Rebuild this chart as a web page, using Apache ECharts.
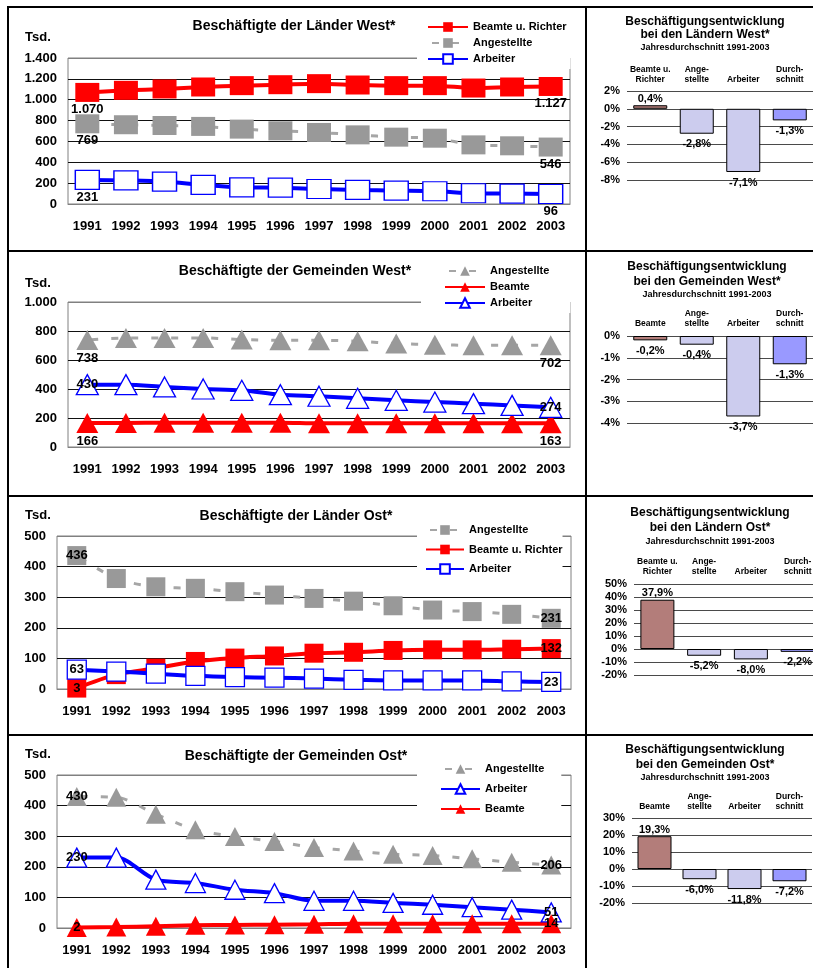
<!DOCTYPE html>
<html>
<head>
<meta charset="utf-8">
<script src="https://cdn.jsdelivr.net/npm/echarts@6/dist/echarts.min.js"></script>
<style>
  html, body { margin: 0; padding: 0; background: #fff; }
  #chart { width: 813px; height: 968px; }
</style>
</head>
<body>
<div id="chart"></div>
<script>
// ---------- data (Tsd. Beschäftigte, Jahreswerte) ----------
const years = ['1991', '1992', '1993', '1994', '1995', '1996', '1997', '1998', '1999', '2000', '2001', '2002', '2003'];

// Länder West
const laenderWestBeamte      = [1070, 1090, 1103, 1122, 1135, 1144, 1154, 1141, 1135, 1135, 1112, 1122, 1127];
const laenderWestAngestellte = [769, 760, 753, 744, 718, 702, 686, 663, 641, 631, 567, 558, 546];
const laenderWestArbeiter    = [231, 226, 215, 183, 160, 157, 144, 135, 128, 122, 103, 100, 96];

// Gemeinden West
const gemeindenWestAngestellte = [738, 752, 752, 752, 741, 736, 736, 729, 713, 706, 701, 701, 702];
const gemeindenWestBeamte      = [166, 166, 167, 167, 167, 167, 163, 163, 163, 163, 163, 163, 163];
const gemeindenWestArbeiter    = [430, 430, 414, 400, 391, 361, 350, 336, 322, 310, 299, 287, 274];

// Länder Ost
const laenderOstAngestellte = [436, 361, 334, 329, 318, 307, 296, 287, 272, 258, 253, 244, 231];
const laenderOstBeamte      = [3, 47, 68, 90, 101, 108, 117, 120, 126, 128, 128, 130, 132];
const laenderOstArbeiter    = [63, 57, 50, 43, 39, 37, 34, 30, 28, 28, 28, 25, 23];

// Gemeinden Ost
const gemeindenOstAngestellte = [430, 427, 372, 321, 299, 283, 263, 252, 241, 237, 226, 215, 206];
const gemeindenOstArbeiter    = [230, 230, 158, 147, 125, 114, 89, 89, 82, 76, 68, 60, 51];
const gemeindenOstBeamte      = [2, 3, 6, 9, 10, 11, 12, 14, 14, 14, 14, 14, 14];

// Jahresdurchschnittliche Veränderung 1991-2003 (%)
const changeCatsLaender   = ['Beamte u.\nRichter', 'Ange-\nstellte', 'Arbeiter', 'Durch-\nschnitt'];
const changeCatsGemeinden = ['Beamte', 'Ange-\nstellte', 'Arbeiter', 'Durch-\nschnitt'];
const changeLaenderWest   = [0.4, -2.8, -7.1, -1.3];
const changeGemeindenWest = [-0.2, -0.4, -3.7, -1.3];
const changeLaenderOst    = [37.9, -5.2, -8.0, -2.2];
const changeGemeindenOst  = [19.3, -6.0, -11.8, -7.2];

// axis scales: [min, max, step]
const scaleLaenderWest   = [0, 1400, 200];
const scaleGemeindenWest = [0, 1000, 200];
const scaleLaenderOst    = [0, 500, 100];
const scaleGemeindenOst  = [0, 500, 100];
const scaleChangeLW = [-8, 2, 2];
const scaleChangeGW = [-4, 0, 1];
const scaleChangeLO = [-20, 50, 10];
const scaleChangeGO = [-20, 30, 10];

// ---------- styling helpers ----------
const FONT = '"Liberation Sans", Arial, Helvetica, sans-serif';
const RED = '#FF0000', BLUE = '#0000FF', GRAY = '#999999', GRAY_LINE = '#A6A6A6';

const fmtThousands = v => v >= 1000 ? Math.floor(v / 1000) + '.' + String(v % 1000).padStart(3, '0') : String(v);
const fmtPct = v => v.toFixed(1).replace('.', ',') + '%';
const lastIdx = years.length - 1;

function kindStyle(kind) {
  if (kind === 'beamte') return {
    lineStyle: { color: RED, width: 4, type: 'solid' },
    itemStyle: { color: RED, borderColor: RED, borderWidth: 0 }
  };
  if (kind === 'angestellte') return {
    lineStyle: { color: GRAY_LINE, width: 3, type: [7, 13], dashOffset: -4 },
    itemStyle: { color: GRAY, borderColor: GRAY, borderWidth: 0 }
  };
  return {
    lineStyle: { color: BLUE, width: 4, type: 'solid' },
    itemStyle: { color: '#FFFFFF', borderColor: BLUE, borderWidth: 1.3 }
  };
}

function lineSeries(gi, region, name, data, kind, symbol, size, labelPos, labelDist) {
  const st = kindStyle(kind);
  return {
    type: 'line',
    name: name + ' (' + region + ')',
    xAxisIndex: gi, yAxisIndex: gi,
    data: data,
    symbol: symbol,
    symbolSize: size,
    smooth: 0.3,
    lineStyle: st.lineStyle,
    itemStyle: st.itemStyle,
    label: {
      show: true,
      position: labelPos,
      distance: labelDist,
      color: '#000',
      fontFamily: FONT, fontWeight: 'bold', fontSize: 13,
      formatter: p => (p.dataIndex === 0 || p.dataIndex === lastIdx) ? fmtThousands(p.value) : ''
    },
    emphasis: { disabled: true },
    animation: false
  };
}

function lineGrid(left, top, width, height) {
  return { left, top, width, height, show: true, borderColor: '#808080', borderWidth: 1,
           backgroundColor: 'transparent', outerBoundsMode: 'none' };
}
function barGrid(left, top, width, height) {
  return { left, top, width, height, show: false, outerBoundsMode: 'none' };
}

function lineXAxis(gi) {
  return {
    type: 'category', gridIndex: gi, data: years, boundaryGap: true,
    axisLine: { show: true, lineStyle: { color: '#808080', width: 1 } },
    axisTick: { show: false },
    splitLine: { show: false },
    axisLabel: { interval: 0, margin: 16, color: '#000', fontFamily: FONT, fontWeight: 'bold', fontSize: 13 }
  };
}
function lineYAxis(gi, scale) {
  const n = Math.round((scale[1] - scale[0]) / scale[2]) + 1;
  const colors = [];
  for (let i = 0; i < n; i++) colors.push(i === 0 || i === n - 1 ? '#808080' : '#111111');
  return {
    type: 'value', gridIndex: gi, min: scale[0], max: scale[1], interval: scale[2],
    axisLine: { show: false }, axisTick: { show: false },
    splitLine: { show: true, lineStyle: { color: colors, width: 1 } },
    axisLabel: { margin: 11, color: '#000', fontFamily: FONT, fontWeight: 'bold', fontSize: 13, formatter: fmtThousands }
  };
}
function barXAxis(gi, cats, margin) {
  return {
    type: 'category', gridIndex: gi, data: cats, position: 'top',
    axisLine: { show: false, onZero: false }, axisTick: { show: false }, splitLine: { show: false },
    axisLabel: { interval: 0, margin: margin, color: '#000', fontFamily: FONT, fontWeight: 'bold',
                 fontSize: 8.5, lineHeight: 10.5, align: 'center' }
  };
}
function barYAxis(gi, scale) {
  return {
    type: 'value', gridIndex: gi, min: scale[0], max: scale[1], interval: scale[2],
    axisLine: { show: false }, axisTick: { show: false },
    splitLine: { show: true, lineStyle: { color: '#4a4a4a', width: 1 } },
    axisLabel: { margin: 7, color: '#000', fontFamily: FONT, fontWeight: 'bold', fontSize: 11,
                 formatter: v => v + '%' }
  };
}
const barColors = ['#B37D7A', '#CCCCEE', '#CCCCEE', '#9999FF'];
function barSeries(gi, values) {
  return {
    type: 'bar', xAxisIndex: gi, yAxisIndex: gi, barWidth: 34,
    data: values.map((v, i) => ({
      value: v,
      itemStyle: { color: barColors[i] },
      label: { position: v >= 0 ? 'top' : 'bottom', distance: v >= 0 ? 1 : 5 }
    })),
    itemStyle: { borderColor: '#000', borderWidth: 1 },
    label: { show: true, color: '#000', fontFamily: FONT, fontWeight: 'bold', fontSize: 11,
             formatter: p => fmtPct(p.value) },
    emphasis: { disabled: true },
    animation: false
  };
}

function legend(names, left, top, padding, itemGap, itemWidth) {
  return {
    orient: 'vertical', left, top, padding, itemGap, itemWidth, itemHeight: 12,
    backgroundColor: '#FFFFFF', selectedMode: false, data: names,
    formatter: n => n.replace(/ \(.*\)$/, ''),
    textStyle: { color: '#000', fontFamily: FONT, fontWeight: 'bold', fontSize: 11, lineHeight: 12 }
  };
}

function txt(x, y, text, size, align) {
  return { type: 'text', x, y, z: 50, silent: true,
    style: { text, fill: '#000', fontFamily: FONT, fontWeight: 'bold', fontSize: size,
             align: align || 'center', verticalAlign: 'middle',
             textAlign: align || 'center', textVerticalAlign: 'middle' } };
}
function rule(x, y, w, h) {
  return { type: 'rect', z: 60, silent: true, shape: { x, y, width: w, height: h }, style: { fill: '#000' } };
}

// ---------- panels ----------
const series = [
  // Länder West (grid 0)
  lineSeries(0, 'Länder West', 'Beamte u. Richter', laenderWestBeamte, 'beamte', 'rect', [24, 19], 'bottom', 1),
  lineSeries(0, 'Länder West', 'Angestellte', laenderWestAngestellte, 'angestellte', 'rect', [24, 19], 'bottom', 1),
  lineSeries(0, 'Länder West', 'Arbeiter', laenderWestArbeiter, 'arbeiter', 'rect', [24, 19], 'bottom', 1),
  // Gemeinden West (grid 1)
  lineSeries(1, 'Gemeinden West', 'Angestellte', gemeindenWestAngestellte, 'angestellte', 'triangle', [22, 20], 'bottom', 2),
  lineSeries(1, 'Gemeinden West', 'Beamte', gemeindenWestBeamte, 'beamte', 'triangle', [22, 20], 'bottom', 2),
  lineSeries(1, 'Gemeinden West', 'Arbeiter', gemeindenWestArbeiter, 'arbeiter', 'triangle', [22, 20], 'inside', 0),
  // Länder Ost (grid 2)
  lineSeries(2, 'Länder Ost', 'Angestellte', laenderOstAngestellte, 'angestellte', 'rect', [19, 19], 'inside', 0),
  lineSeries(2, 'Länder Ost', 'Beamte u. Richter', laenderOstBeamte, 'beamte', 'rect', [19, 19], 'inside', 0),
  lineSeries(2, 'Länder Ost', 'Arbeiter', laenderOstArbeiter, 'arbeiter', 'rect', [19, 19], 'inside', 0),
  // Gemeinden Ost (grid 3)
  lineSeries(3, 'Gemeinden Ost', 'Angestellte', gemeindenOstAngestellte, 'angestellte', 'triangle', [20, 19], 'inside', 0),
  lineSeries(3, 'Gemeinden Ost', 'Arbeiter', gemeindenOstArbeiter, 'arbeiter', 'triangle', [20, 19], 'inside', 0),
  lineSeries(3, 'Gemeinden Ost', 'Beamte', gemeindenOstBeamte, 'beamte', 'triangle', [20, 19], 'inside', 0),
  // change bars (grids 4-7)
  barSeries(4, changeLaenderWest),
  barSeries(5, changeGemeindenWest),
  barSeries(6, changeLaenderOst),
  barSeries(7, changeGemeindenOst)
];

const option = {
  animation: false,
  backgroundColor: '#FFFFFF',
  textStyle: { fontFamily: FONT },
  grid: [
    lineGrid(68, 58, 502, 146),
    lineGrid(68, 302, 502, 145),
    lineGrid(57, 536, 514, 153),
    lineGrid(57, 775, 514, 153),
    barGrid(627, 91, 186, 89),
    barGrid(627, 336, 186, 87),
    barGrid(634, 584, 187, 91),
    barGrid(632, 818, 180, 85)
  ],
  xAxis: [
    lineXAxis(0), lineXAxis(1), lineXAxis(2), lineXAxis(3),
    barXAxis(4, changeCatsLaender, 6),
    barXAxis(5, changeCatsGemeinden, 7),
    barXAxis(6, changeCatsLaender, 7),
    barXAxis(7, changeCatsGemeinden, 6)
  ],
  yAxis: [
    lineYAxis(0, scaleLaenderWest), lineYAxis(1, scaleGemeindenWest),
    lineYAxis(2, scaleLaenderOst), lineYAxis(3, scaleGemeindenOst),
    barYAxis(4, scaleChangeLW), barYAxis(5, scaleChangeGW),
    barYAxis(6, scaleChangeLO), barYAxis(7, scaleChangeGO)
  ],
  legend: [
    legend(['Beamte u. Richter (Länder West)', 'Angestellte (Länder West)', 'Arbeiter (Länder West)'],
           417, 17, [4, 4, 4, 10], 4, 40),
    legend(['Angestellte (Gemeinden West)', 'Beamte (Gemeinden West)', 'Arbeiter (Gemeinden West)'],
           421, 261, [4, 21, 4, 23], 4, 40),
    legend(['Angestellte (Länder Ost)', 'Beamte u. Richter (Länder Ost)', 'Arbeiter (Länder Ost)'],
           417, 520, [4, 0, 4, 8], 7.5, 38),
    legend(['Angestellte (Gemeinden Ost)', 'Arbeiter (Gemeinden Ost)', 'Beamte (Gemeinden Ost)'],
           417, 759, [4, 17, 4, 23], 8, 39)
  ],
  graphic: [
    // table frame
    rule(7, 6, 806, 2), rule(7, 6, 2, 962),
    rule(7, 250, 806, 2), rule(7, 495, 806, 2), rule(7, 734, 806, 2),
    rule(585, 6, 2, 962),
    // line chart titles
    txt(294, 26, 'Beschäftigte der Länder West*', 14),
    txt(295, 271, 'Beschäftigte der Gemeinden West*', 14),
    txt(296, 516, 'Beschäftigte der Länder Ost*', 14),
    txt(296, 756, 'Beschäftigte der Gemeinden Ost*', 14),
    txt(25, 37, 'Tsd.', 13, 'left'),
    txt(25, 283, 'Tsd.', 13, 'left'),
    txt(25, 515, 'Tsd.', 13, 'left'),
    txt(25, 754, 'Tsd.', 13, 'left'),
    // bar chart titles
    txt(705, 22, 'Beschäftigungsentwicklung', 12),
    txt(705, 35, 'bei den Ländern West*', 12),
    txt(705, 48, 'Jahresdurchschnitt 1991-2003', 9),
    txt(707, 267, 'Beschäftigungsentwicklung', 12),
    txt(707, 282, 'bei den Gemeinden West*', 12),
    txt(707, 295, 'Jahresdurchschnitt 1991-2003', 9),
    txt(710, 513, 'Beschäftigungsentwicklung', 12),
    txt(710, 528, 'bei den Ländern Ost*', 12),
    txt(710, 542, 'Jahresdurchschnitt 1991-2003', 9),
    txt(705, 750, 'Beschäftigungsentwicklung', 12),
    txt(705, 765, 'bei den Gemeinden Ost*', 12),
    txt(705, 778, 'Jahresdurchschnitt 1991-2003', 9)
  ],
  series: series
};

const chart = echarts.init(document.getElementById('chart'), null, { renderer: 'canvas', width: 813, height: 968 });
chart.setOption(option);
</script>
</body>
</html>
